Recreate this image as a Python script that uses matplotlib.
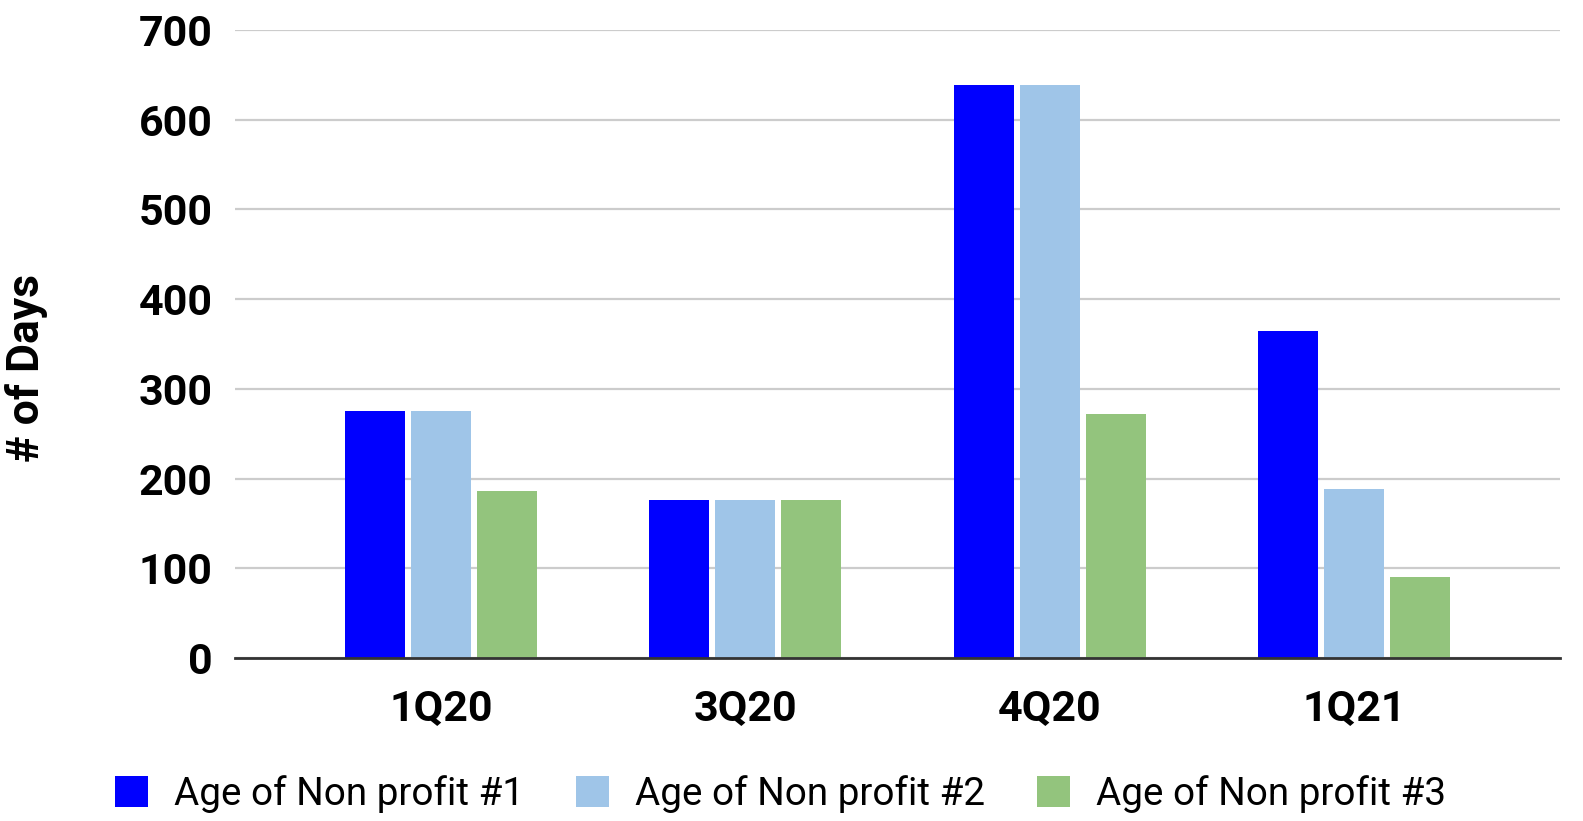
"""Grouped bar chart: age of non profits by quarter."""
import matplotlib

matplotlib.use("Agg")
import matplotlib.pyplot as plt
import numpy as np

plt.rcParams["font.family"] = ["Roboto", "DejaVu Sans"]

quarters = ["1Q20", "3Q20", "4Q20", "1Q21"]
series_names = ["Age of Non profit #1", "Age of Non profit #2", "Age of Non profit #3"]
np1 = [275, 176, 639, 364]
np2 = [275, 176, 639, 188]
np3 = [186, 176, 272, 90]
colors = ["#0000ff", "#9fc5e8", "#93c47d"]

fig = plt.figure(figsize=(15.83, 8.21), dpi=100)
ax = fig.add_axes([0.1485, 0.1985, 0.837, 0.765])

x = np.arange(len(quarters))
step, width = 0.2167, 0.197
for i, (vals, name, c) in enumerate(zip([np1, np2, np3], series_names, colors)):
    ax.bar(x + (i - 1) * step, vals, width, color=c, label=name, zorder=3)

ax.set_xlim(-0.677, 3.677)
ax.set_ylim(0, 700)
ax.set_yticks(range(0, 701, 100))
ax.set_xticks(x, quarters)
ax.yaxis.grid(True, color="#cccccc", linewidth=1.6, zorder=0)
ax.set_axisbelow(True)
for s in ("top", "right", "left"):
    ax.spines[s].set_visible(False)
ax.spines["bottom"].set_color("#333333")
ax.spines["bottom"].set_linewidth(2)
ax.spines["bottom"].set_zorder(4)
ax.tick_params(axis="both", length=0, labelsize=31)
ax.tick_params(axis="y", pad=16)
ax.tick_params(axis="x", pad=22)
for lbl in ax.get_xticklabels() + ax.get_yticklabels():
    lbl.set_fontweight("bold")

ax.set_ylabel("# of Days", fontsize=32, fontweight="bold")
ax.yaxis.set_label_coords(-0.141, 0.462)

fig.legend(loc="center", bbox_to_anchor=(0.493, 0.033), ncol=3, frameon=False,
           fontsize=27.8, handlelength=0.85, handleheight=0.85,
           handletextpad=0.67, columnspacing=1.35)

fig.savefig("out.png", dpi=100)
